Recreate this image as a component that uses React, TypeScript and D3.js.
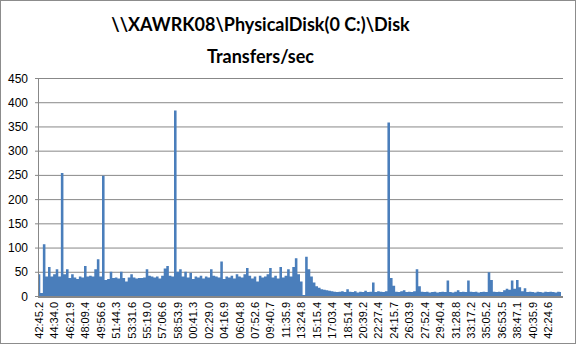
import React from "react";
import * as d3 from "d3";

const titleLines: string[] = ["\\\\XAWRK08\\PhysicalDisk(0 C:)\\Disk", "Transfers/sec"];

const transfers: number[] = [
  45, 6, 107, 40, 60, 40, 45, 55, 40, 254,
  45, 55, 37, 45, 38, 35, 40, 38, 62, 40,
  42, 40, 55, 76, 40, 248, 33, 35, 50, 37,
  38, 36, 50, 37, 30, 38, 45, 38, 36, 37,
  37, 38, 55, 42, 40, 38, 40, 36, 42, 57,
  62, 42, 40, 383, 50, 55, 40, 50, 38, 48,
  35, 40, 38, 42, 36, 40, 38, 55, 42, 40,
  38, 71, 35, 40, 38, 42, 36, 45, 40, 38,
  45, 58, 42, 36, 40, 30, 42, 38, 40, 45,
  58, 38, 42, 36, 60, 38, 42, 55, 40, 60,
  78, 45, 30, 2, 81, 55, 40, 28, 20, 17,
  14, 13, 12, 11, 10, 9, 8, 9, 10, 8,
  14, 9, 8, 10, 7, 9, 8, 11, 8, 9,
  28, 8, 10, 9, 8, 10, 358, 37, 21, 9,
  8, 10, 12, 8, 9, 8, 10, 55, 20, 9,
  8, 9, 7, 8, 9, 7, 8, 9, 8, 32,
  8, 7, 9, 12, 8, 9, 8, 32, 9, 8,
  9, 7, 8, 9, 8, 49, 33, 9, 8, 9,
  8, 12, 15, 13, 32, 15, 33, 18, 10, 16,
  8, 9, 8, 7, 9, 8, 7, 9, 8, 9,
  8, 7, 9, 8,
];

const xLabels: string[] = [
  "42:45.2", "44:34.0", "46:21.9", "48:09.4", "49:56.6", "51:44.3", "53:31.6", "55:19.0",
  "57:06.6", "58:53.9", "00:41.3", "02:29.0", "04:16.9", "06:04.8", "07:52.6", "09:40.7",
  "11:35.9", "13:24.8", "15:15.4", "17:03.4", "18:51.4", "20:39.2", "22:27.4", "24:15.7",
  "26:03.9", "27:52.4", "29:40.4", "31:28.8", "33:17.2", "35:05.2", "36:53.5", "38:47.1",
  "40:35.9", "42:24.6",
];
const labelStep = 6;
const yTicks: number[] = [0, 50, 100, 150, 200, 250, 300, 350, 400, 450];

const W = 576;
const H = 344;
const left = 38;
const right = 562;
const top = 78;
const bottom = 296;
const font = "'Liberation Sans', Arial, sans-serif";

export default function App() {
  const x = d3.scaleLinear().domain([0, transfers.length - 1]).range([left + 1, right - 1]);
  const y = d3.scaleLinear().domain([0, 450]).range([bottom, top]);
  const area = d3
    .area<number>()
    .x((_, i) => x(i))
    .y0(y(0))
    .y1((d) => y(d))
    .curve(d3.curveStep);

  return (
    <svg
      width={W}
      height={H}
      style={{ position: "absolute", left: 0, top: 0, background: "#fff" }}
    >
      <rect x={0.5} y={0.5} width={W - 1} height={H - 1} fill="#fff" stroke="#8c8c8c" />
      {titleLines.map((t, i) => (
        <text
          key={i}
          x={260.5}
          y={31 + i * 32}
          textAnchor="middle"
          fontFamily="Lato, 'Open Sans', sans-serif"
          fontWeight="bold"
          fontSize={18}
          fill="#000"
        >
          {t}
        </text>
      ))}
      {yTicks.map((v) => (
        <g key={v}>
          <line x1={left - 3} x2={right + 1} y1={y(v) + 0.5} y2={y(v) + 0.5} stroke="#888" strokeWidth={1} />
          <text
            x={28}
            y={y(v) + 4.5}
            textAnchor="end"
            fontFamily={font}
            fontSize={12}
            fill="#000"
          >
            {v}
          </text>
        </g>
      ))}
      <path d={area(transfers) || ""} fill="#4A7EBB" />
      <line x1={left + 0.5} x2={left + 0.5} y1={top} y2={bottom} stroke="#888" />
      <line x1={left} x2={right + 1} y1={bottom + 1} y2={bottom + 1} stroke="#888" strokeWidth={2} />
      {xLabels.map((t, i) => {
        const px = x(i * labelStep);
        return (
          <text
            key={t + i}
            transform={`translate(${px + 4},${bottom + 6}) rotate(-90)`}
            textAnchor="end"
            fontFamily={font}
            fontSize={11}
            fill="#000"
          >
            {t}
          </text>
        );
      })}
    </svg>
  );
}
